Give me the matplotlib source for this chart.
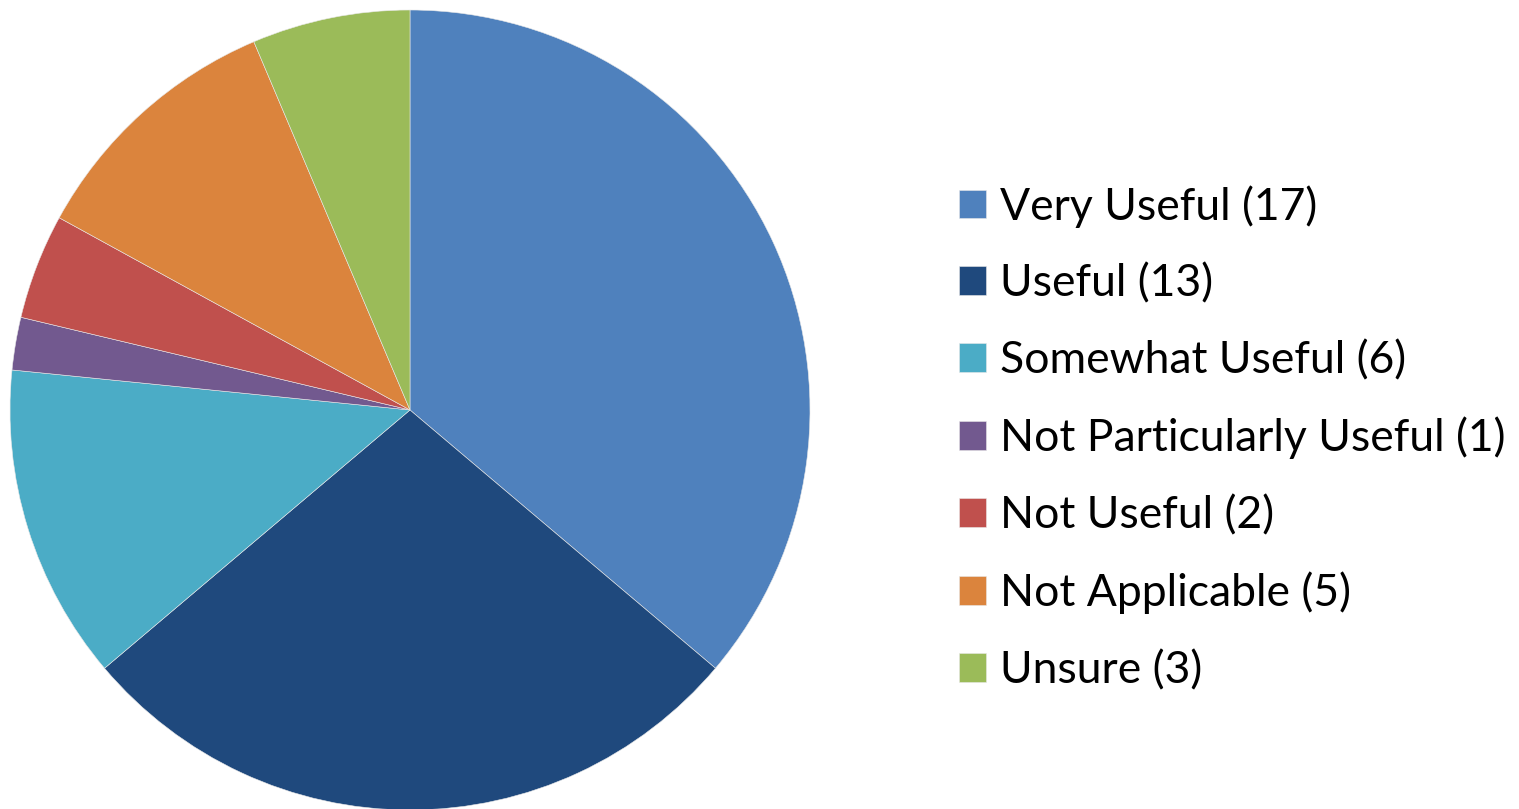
import matplotlib
matplotlib.use('Agg')
import matplotlib.pyplot as plt

labels = ['Very Useful', 'Useful', 'Somewhat Useful', 'Not Particularly Useful',
          'Not Useful', 'Not Applicable', 'Unsure']
counts = [17, 13, 6, 1, 2, 5, 3]
colors = ['#4F81BD', '#1F497D', '#4BACC6', '#72598F', '#C0504D', '#DB843D', '#9BBB59']

plt.rcParams['font.family'] = ['Lato', 'DejaVu Sans']

fig = plt.figure(figsize=(15.19, 8.09), dpi=100)
ax = fig.add_axes([10/1519, -1/809, 800/1519, 800/809])

wedges, _ = ax.pie(counts, colors=colors, startangle=90, counterclock=False,
                   wedgeprops=dict(edgecolor='#e8e8e8', linewidth=0.4))
ax.set_aspect('equal')
ax.set_xlim(-1, 1)
ax.set_ylim(-1, 1)

legend_labels = ['%s (%d)' % (l, c) for l, c in zip(labels, counts)]
fig.legend(wedges, legend_labels, loc='center left',
           bbox_to_anchor=(959/1519, (809-438)/809),
           frameon=False, prop=dict(size=32),
           handlelength=0.61, handleheight=0.61,
           handletextpad=0.32, labelspacing=0.80, borderpad=0, borderaxespad=0)

fig.savefig('out.png', dpi=100)
plt.close(fig)
